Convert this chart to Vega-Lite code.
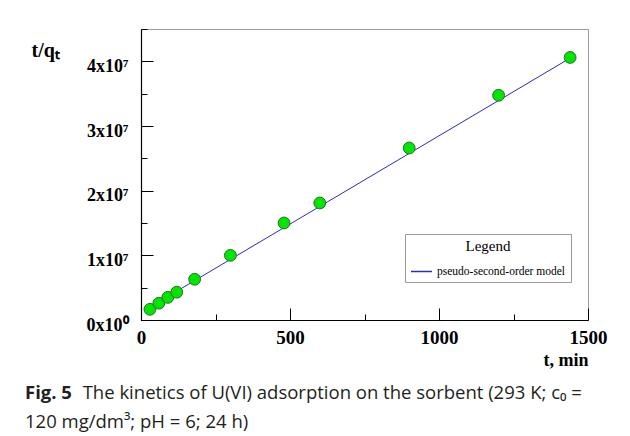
{
  "$schema": "https://vega.github.io/schema/vega-lite/v6.json",
  "autosize": "none",
  "width": 447,
  "height": 291,
  "padding": {"left": 141, "top": 29, "right": 42, "bottom": 116},
  "background": "white",
  "config": {
    "view": {"stroke": "#9a9a9a", "strokeWidth": 1}
  },
  "title": {
    "text": "Fig. 5",
    "subtitle": ["\u200b\u00a0\u00a0\u00a0\u00a0\u00a0\u00a0\u00a0\u00a0\u00a0\u00a0\u00a0\u00a0The kinetics of U(VI) adsorption on the sorbent (293 K; c₀ =", "120 mg/dm³; pH = 6; 24 h)"],
    "orient": "bottom",
    "anchor": "start",
    "frame": "group",
    "dx": -116,
    "offset": 15,
    "font": "Open Sans",
    "fontSize": 18.5,
    "fontWeight": "bold",
    "color": "#231f20",
    "subtitleFont": "Open Sans",
    "subtitleFontSize": 18.5,
    "subtitleFontWeight": "normal",
    "subtitleColor": "#231f20",
    "subtitlePadding": -18.5,
    "subtitleLineHeight": 29
  },
  "datasets": {
    "points": [
      {"t": 30, "tq": 1650000},
      {"t": 60, "tq": 2600000},
      {"t": 90, "tq": 3500000},
      {"t": 120, "tq": 4300000},
      {"t": 180, "tq": 6300000},
      {"t": 300, "tq": 10000000},
      {"t": 480, "tq": 15000000},
      {"t": 600, "tq": 18100000},
      {"t": 900, "tq": 26600000},
      {"t": 1200, "tq": 34750000},
      {"t": 1440, "tq": 40600000}
    ],
    "model": [
      {"t": 30, "tq": 2000000, "series": "pseudo-second-order model"},
      {"t": 1440, "tq": 40500000, "series": "pseudo-second-order model"}
    ]
  },
  "encoding": {
    "x": {
      "field": "t",
      "type": "quantitative",
      "scale": {"domain": [0, 1500], "nice": false, "zero": false},
      "axis": {
        "values": [0, 250, 500, 750, 1000, 1250, 1500],
        "labelExpr": "datum.value % 500 == 0 ? format(datum.value, 'd') : ''",
        "tickSize": {"condition": {"test": "datum.value % 500 == 0", "value": -12}, "value": -6},
        "tickColor": "black",
        "tickWidth": 1,
        "domainColor": "black",
        "domainWidth": 1.2,
        "grid": false,
        "labelFont": "Liberation Serif",
        "labelFontWeight": "bold",
        "labelFontSize": 19,
        "labelColor": "black",
        "labelPadding": 20,
        "labelFlush": false,
        "labelOverlap": false,
        "title": "t, min",
        "titleFont": "Liberation Serif",
        "titleFontWeight": "bold",
        "titleFontSize": 18,
        "titleColor": "black",
        "titleAlign": "right",
        "titleBaseline": "alphabetic",
        "titleX": 447,
        "titleY": 45
      }
    },
    "y": {
      "field": "tq",
      "type": "quantitative",
      "scale": {"domain": [0, 45000000], "nice": false, "zero": false},
      "axis": {
        "values": [0, 5000000, 10000000, 15000000, 20000000, 25000000, 30000000, 35000000, 40000000, 45000000],
        "labelExpr": "datum.value % 10000000 == 0 ? (datum.value == 0 ? '0x10⁰' : format(datum.value / 10000000, 'd') + 'x10⁷') : ''",
        "tickSize": {"condition": {"test": "datum.value % 10000000 == 0", "value": -12}, "value": -6},
        "tickColor": "black",
        "tickWidth": 1,
        "domainColor": "black",
        "domainWidth": 1.2,
        "grid": false,
        "labelFont": "Liberation Serif",
        "labelFontWeight": "bold",
        "labelFontSize": 18,
        "labelColor": "black",
        "labelPadding": 25,
        "labelOffset": 5,
        "labelFlush": false,
        "labelOverlap": false,
        "title": "t/qₜ",
        "titleAngle": 0,
        "titleFont": "Liberation Serif",
        "titleFontWeight": "bold",
        "titleFontSize": 20,
        "titleColor": "black",
        "titleAlign": "left",
        "titleBaseline": "alphabetic",
        "titleX": -110,
        "titleY": 27
      }
    }
  },
  "layer": [
    {
      "data": {"name": "model"},
      "mark": {"type": "line", "strokeWidth": 1, "clip": true},
      "encoding": {
        "color": {
          "field": "series",
          "type": "nominal",
          "scale": {"range": ["#2a2ac8"]},
          "legend": {
            "orient": "none",
            "legendX": 264,
            "legendY": 205,
            "title": "Legend",
            "titleAnchor": "middle",
            "titleFont": "Liberation Serif",
            "titleFontWeight": "normal",
            "titleFontSize": 15,
            "titleColor": "black",
            "titlePadding": 6,
            "labelFont": "Liberation Serif",
            "labelFontSize": 11.5,
            "labelColor": "black",
            "symbolType": "stroke",
            "symbolSize": 440,
            "symbolStrokeWidth": 1.5,
            "symbolStrokeColor": "#000080",
            "strokeColor": "#999999",
            "fillColor": "white",
            "padding": 5
          }
        }
      }
    },
    {
      "data": {"name": "points"},
      "mark": {"type": "point", "filled": true, "size": 140, "fill": "#00e600", "stroke": "#2d6b2d", "strokeWidth": 1, "opacity": 1}
    }
  ]
}
